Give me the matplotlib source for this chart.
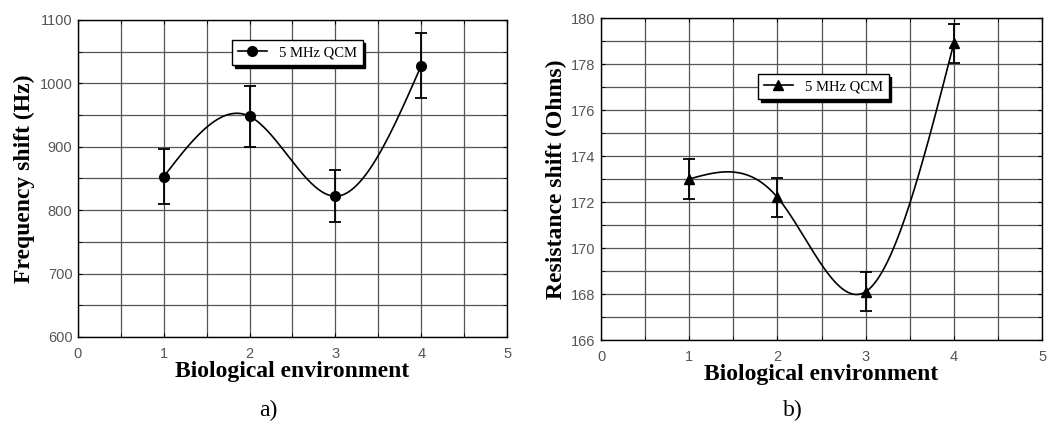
import numpy as np
import matplotlib
matplotlib.use('Agg')
import matplotlib.pyplot as plt
from matplotlib.ticker import MultipleLocator

# Data
env = [1, 2, 3, 4]
freq_shift = [853, 948, 822, 1028]
freq_err = [43, 48, 41, 51]
res_shift = [173.0, 172.2, 168.1, 178.9]
res_err = [0.85, 0.85, 0.85, 0.85]
legend_label = '5 MHz QCM'


def natural_spline(x, y, n=200):
    # natural cubic spline, like Origin's spline connect
    x = np.asarray(x, float)
    y = np.asarray(y, float)
    k = len(x)
    h = np.diff(x)
    A = np.zeros((k, k))
    b = np.zeros(k)
    A[0, 0] = A[-1, -1] = 1
    for i in range(1, k - 1):
        A[i, i - 1] = h[i - 1]
        A[i, i] = 2 * (h[i - 1] + h[i])
        A[i, i + 1] = h[i]
        b[i] = 6 * ((y[i + 1] - y[i]) / h[i] - (y[i] - y[i - 1]) / h[i - 1])
    M = np.linalg.solve(A, b)
    xs = np.linspace(x[0], x[-1], n)
    idx = np.clip(np.searchsorted(x, xs) - 1, 0, k - 2)
    t0 = x[idx + 1] - xs
    t1 = xs - x[idx]
    hi = h[idx]
    ys = (M[idx] * t0**3 + M[idx + 1] * t1**3) / (6 * hi) \
        + (y[idx] / hi - M[idx] * hi / 6) * t0 \
        + (y[idx + 1] / hi - M[idx + 1] * hi / 6) * t1
    return xs, ys


serif = ['Liberation Serif', 'DejaVu Serif']
sans = ['Liberation Sans', 'DejaVu Sans']

fig = plt.figure(figsize=(10.48, 4.3), dpi=100)
ax1 = fig.add_axes([0.0744, 0.2163, 0.4094, 0.7372])
ax2 = fig.add_axes([0.5735, 0.2093, 0.4208, 0.7488])


def style_axes(ax, ylim, ymaj, ymin, ylabel):
    ax.set_xlim(0, 5)
    ax.set_ylim(*ylim)
    ax.xaxis.set_major_locator(MultipleLocator(1))
    ax.xaxis.set_minor_locator(MultipleLocator(0.5))
    ax.yaxis.set_major_locator(MultipleLocator(ymaj))
    ax.yaxis.set_minor_locator(MultipleLocator(ymin))
    ax.grid(which='both', color='#555555', lw=0.9)
    ax.set_axisbelow(True)
    ax.tick_params(which='both', direction='in', top=True, right=True,
                   labelsize=10.5, labelcolor='#555555', length=3)
    ax.tick_params(axis='x', pad=7)
    ax.tick_params(axis='y', pad=4)
    for lab in ax.get_xticklabels() + ax.get_yticklabels():
        lab.set_family(sans)
    for s in ax.spines.values():
        s.set_linewidth(1.0)
    ax.set_xlabel('Biological environment', family=serif, fontsize=17,
                  fontweight='bold', labelpad=0)
    ax.set_ylabel(ylabel, family=serif, fontsize=17, fontweight='bold',
                  labelpad=3)


style_axes(ax1, (600, 1100), 100, 50, 'Frequency shift (Hz)')
style_axes(ax2, (166, 180), 2, 1, 'Resistance shift (Ohms)')

# panel a
xs, ys = natural_spline(env, freq_shift)
ax1.plot(xs, ys, color='black', lw=1.2)
ax1.errorbar(env, freq_shift, yerr=freq_err, fmt='o', color='black',
             ms=7, capsize=4, elinewidth=1.3, capthick=1.3)
h1, = ax1.plot([], [], '-o', color='black', ms=7, lw=1.2)
ax1.legend([h1], [legend_label], loc='upper left',
           bbox_to_anchor=(0.359, 0.937), prop={'family': serif, 'size': 10.5},
           fancybox=False, edgecolor='black', framealpha=1, handlelength=2,
           borderaxespad=0, shadow={'color': 'black', 'alpha': 1})

# panel b
xs, ys = natural_spline(env, res_shift)
ax2.plot(xs, ys, color='black', lw=1.2)
ax2.errorbar(env, res_shift, yerr=res_err, fmt='^', color='black',
             ms=7.5, capsize=4, elinewidth=1.3, capthick=1.3)
h2, = ax2.plot([], [], '-^', color='black', ms=7.5, lw=1.2)
ax2.legend([h2], [legend_label], loc='upper left',
           bbox_to_anchor=(0.356, 0.826), prop={'family': serif, 'size': 10.5},
           fancybox=False, edgecolor='black', framealpha=1, handlelength=2,
           borderaxespad=0, shadow={'color': 'black', 'alpha': 1})

fig.text(268 / 1048, 1 - 410 / 430, 'a)', family=serif, fontsize=17,
         ha='center', va='center')
fig.text(793 / 1048, 1 - 410 / 430, 'b)', family=serif, fontsize=17,
         ha='center', va='center')

fig.savefig('out.png', dpi=100)
